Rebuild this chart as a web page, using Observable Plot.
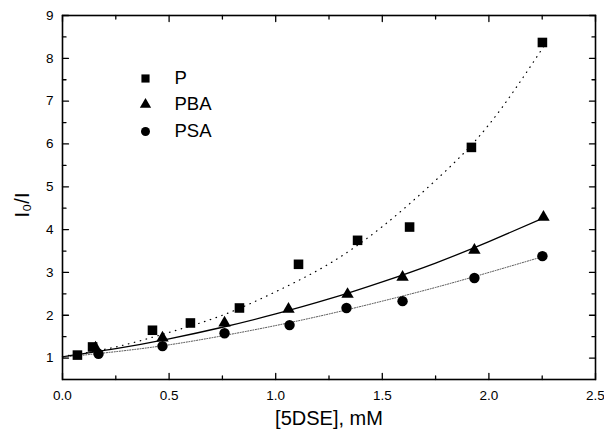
<!DOCTYPE html>
<html>
<head>
<meta charset="utf-8">
<script src="https://cdn.jsdelivr.net/npm/d3@7"></script>
<script src="https://cdn.jsdelivr.net/npm/@observablehq/plot@0.6"></script>
<style>
  html, body { margin: 0; padding: 0; background: #fff; }
  svg { display: block; }
</style>
</head>
<body>
<div id="chart"></div>
<script>
// ---- data ----
const P_x   = [0.070, 0.141, 0.422, 0.600, 0.830, 1.107, 1.384, 1.628, 1.918, 2.251];
const P_y   = [1.07, 1.26, 1.65, 1.82, 2.17, 3.19, 3.75, 4.06, 5.92, 8.37];
const PBA_x = [0.155, 0.469, 0.760, 1.060, 1.337, 1.595, 1.932, 2.256];
const PBA_y = [1.24, 1.47, 1.82, 2.14, 2.49, 2.89, 3.52, 4.29];
const PSA_x = [0.169, 0.469, 0.760, 1.065, 1.332, 1.595, 1.932, 2.251];
const PSA_y = [1.10, 1.28, 1.58, 1.77, 2.17, 2.33, 2.87, 3.38];

// fitted curves
const fit_x   = [0, 0.25, 0.5, 0.75, 1.0, 1.25, 1.5, 1.75, 2.0, 2.26];
const fitP    = [1.04, 1.26, 1.60, 2.00, 2.55, 3.20, 4.07, 5.15, 6.45, 8.30];
const fitPBA  = [1.03, 1.22, 1.45, 1.72, 2.03, 2.38, 2.78, 3.22, 3.72, 4.28];
const fitPSA  = [1.02, 1.15, 1.31, 1.52, 1.76, 2.03, 2.33, 2.65, 3.00, 3.38];

const xTicks      = [0, 0.5, 1.0, 1.5, 2.0, 2.5];
const xMinorTicks = [0.25, 0.75, 1.25, 1.75, 2.25];
const yTicks      = [1, 2, 3, 4, 5, 6, 7, 8, 9];
const yMinorTicks = [1.5, 2.5, 3.5, 4.5, 5.5, 6.5, 7.5, 8.5];

const legendNames   = ["P", "PBA", "PSA"];
const legendSymbols = ["square", "triangle", "circle"];

const xLabel = "[5DSE], mM";
const yLabel = "I\u2080/I";

// ---- helpers ----
const pts = (xs, ys) => xs.map((x, i) => ({x, y: ys[i]}));
const tickShape = {draw(ctx, l) { ctx.moveTo(0, 0); ctx.lineTo(0, -l); }};
const font = "'Liberation Sans', Arial, Helvetica, sans-serif";

const xDom = [0, 2.5], yDom = [0.5, 9];

function ticks(values, axis, side, len) {
  const opt = {length: len, anchor: "start", shape: tickShape, stroke: "black", strokeWidth: 1.3};
  if (axis === "x") {
    return Plot.vector(values, {...opt, x: d => d, y: side === "bottom" ? yDom[0] : yDom[1], rotate: side === "bottom" ? 0 : 180});
  } else {
    return Plot.vector(values, {...opt, y: d => d, x: side === "left" ? xDom[0] : xDom[1], rotate: side === "left" ? 90 : -90});
  }
}

const legendRowsDy = [63, 89, 116];
const legendSizes = [4.6, 4.2, 4.5];

const chart = Plot.plot({
  width: 604,
  height: 434,
  marginLeft: 62,
  marginRight: 9,
  marginTop: 15,
  marginBottom: 55,
  style: {fontFamily: font, background: "white", color: "black"},
  x: {domain: xDom},
  y: {domain: yDom},
  marks: [
    // fitted curves
    Plot.line(pts(fit_x, fitP),   {x: "x", y: "y", curve: "natural", stroke: "black", strokeWidth: 1.2, strokeDasharray: "0.6,5.5", strokeLinecap: "round"}),
    Plot.line(pts(fit_x, fitPBA), {x: "x", y: "y", curve: "natural", stroke: "black", strokeWidth: 1.3}),
    Plot.line(pts(fit_x, fitPSA), {x: "x", y: "y", curve: "natural", stroke: "#333", strokeWidth: 0.9, strokeDasharray: "1,1.6"}),
    // data
    Plot.dot(pts(P_x, P_y),     {x: "x", y: "y", symbol: "square",   r: 5.4, fill: "black"}),
    Plot.dot(pts(PBA_x, PBA_y), {x: "x", y: "y", symbol: "triangle", r: 4.6, fill: "black"}),
    Plot.dot(pts(PSA_x, PSA_y), {x: "x", y: "y", symbol: "circle",   r: 5.2, fill: "black"}),
    // frame & ticks
    Plot.frame({stroke: "black", strokeWidth: 1.6}),
    ticks(xTicks, "x", "bottom", 6), ticks(xMinorTicks, "x", "bottom", 3.5),
    ticks(xTicks, "x", "top", 6),    ticks(xMinorTicks, "x", "top", 3.5),
    ticks(yTicks, "y", "left", 6),   ticks(yMinorTicks, "y", "left", 3.5),
    ticks(yTicks, "y", "right", 6),  ticks(yMinorTicks, "y", "right", 3.5),
    // tick labels
    Plot.axisX({ticks: xTicks, tickSize: 0, tickPadding: 11, tickFormat: d => d.toFixed(1), fontSize: 13.5, label: null}),
    Plot.axisY({ticks: yTicks, tickSize: 0, tickPadding: 9, tickFormat: d => String(d), fontSize: 13.5, label: null}),
    // axis titles
    Plot.text([xLabel], {text: d => d, frameAnchor: "bottom", dy: 45, fontSize: 20, fill: "black"}),
    Plot.text([yLabel], {text: d => d, frameAnchor: "left", dx: -40, dy: 20, rotate: -90, fontSize: 20, fill: "black"}),
    // legend
    ...legendNames.flatMap((name, i) => [
      Plot.dot([name], {frameAnchor: "top-left", dx: 83, dy: legendRowsDy[i], symbol: legendSymbols[i], r: legendSizes[i], fill: "black"}),
      Plot.text([name], {text: d => d, frameAnchor: "top-left", dx: 112, dy: legendRowsDy[i], textAnchor: "start", lineAnchor: "middle", fontSize: 18.5, fill: "black"})
    ])
  ]
});

document.getElementById("chart").appendChild(chart);
</script>
</body>
</html>
